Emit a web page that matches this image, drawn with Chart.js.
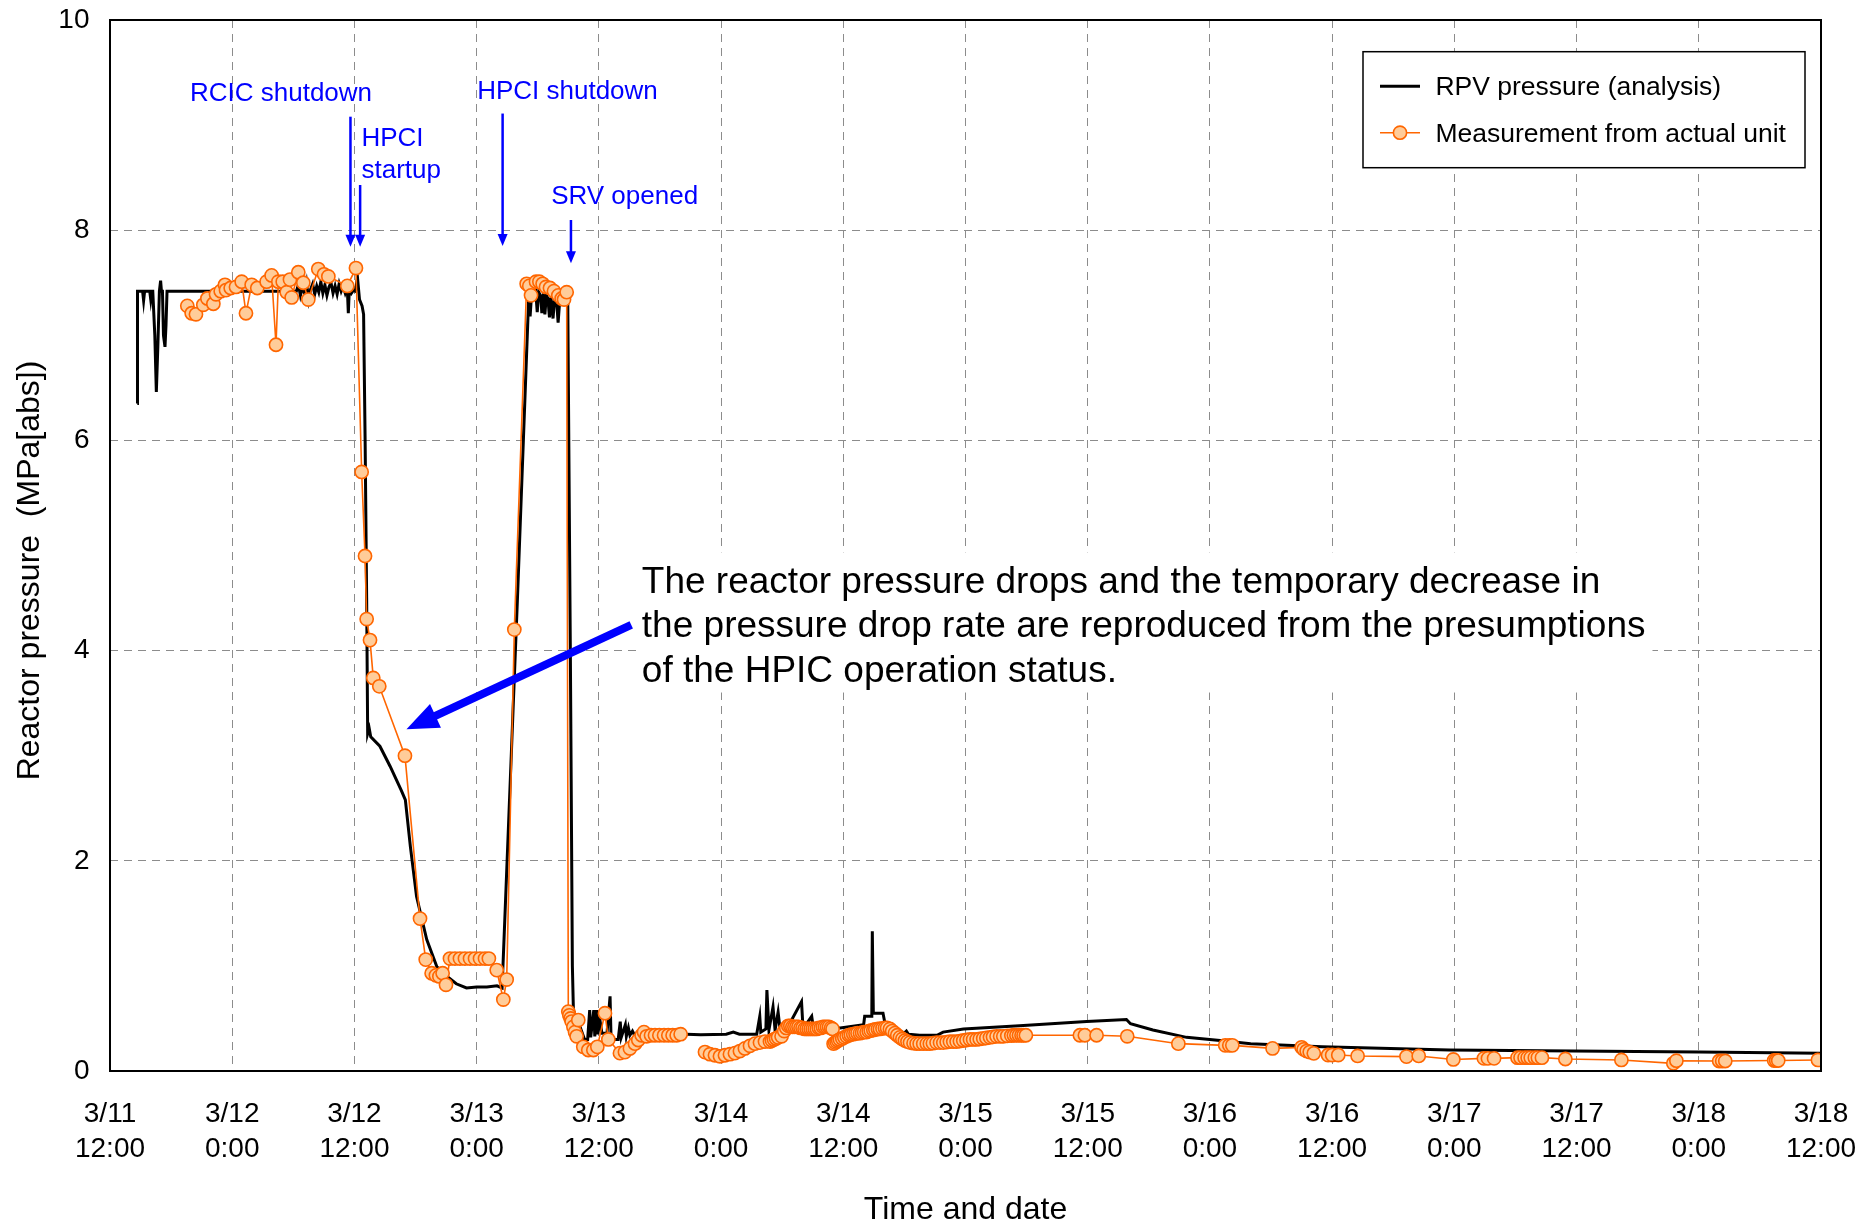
<!DOCTYPE html>
<html>
<head>
<meta charset="utf-8">
<title>Reactor pressure</title>
<script src="https://cdn.jsdelivr.net/npm/chart.js@4.4.1/dist/chart.umd.min.js"></script>
<style>
  html, body { margin: 0; padding: 0; background: #ffffff; }
  canvas { display: block; }
</style>
</head>
<body>
<canvas id="chart" width="1870" height="1223"></canvas>
<script>
// Time axis: hours elapsed since 3/11 12:00, one tick every 12 hours
const tickLabels = [
  ['3/11', '12:00'], ['3/12', '0:00'], ['3/12', '12:00'], ['3/13', '0:00'], ['3/13', '12:00'],
  ['3/14', '0:00'], ['3/14', '12:00'], ['3/15', '0:00'], ['3/15', '12:00'], ['3/16', '0:00'],
  ['3/16', '12:00'], ['3/17', '0:00'], ['3/17', '12:00'], ['3/18', '0:00'], ['3/18', '12:00']
];

// RPV pressure from the analysis (hours, MPa[abs])
const analysisHours = [
  2.68, 2.70, 3.20, 3.30, 3.40, 3.90, 4.00, 4.10, 4.20, 4.40, 4.55, 4.70, 4.85, 4.97, 5.05,
  5.15, 5.25, 5.40, 5.50, 5.60, 10.0, 15.0, 18.3,
  18.5, 18.7, 18.9, 19.1, 19.3, 19.5, 19.7, 19.9, 20.1, 20.3, 20.5, 20.7, 20.9, 21.1, 21.3,
  21.5, 21.7, 21.9, 22.1, 22.3, 22.5, 22.7, 22.9, 23.1, 23.3, 23.4, 23.5, 23.7, 23.9, 24.1,
  24.3, 24.5, 24.75, 24.9, 25.05, 25.2, 25.3, 25.45, 25.6, 26.5, 27.5, 28.6, 29.0, 29.5,
  30.1, 31.1, 32.1, 33.1, 34.0, 35.0, 36.0, 37.0, 38.0, 38.5, 40.0,
  41.1, 41.25, 41.4, 41.6, 41.8, 41.95, 42.1, 42.3, 42.4, 42.55, 42.7, 42.85, 43.0, 43.15,
  43.3, 43.5, 43.65, 43.85, 44.0, 44.15, 44.4, 44.6, 44.95,
  45.2, 45.4, 45.5, 46.15, 46.6, 46.9, 47.1, 47.2, 47.5, 47.6, 47.8, 47.9, 48.1, 48.3, 48.8,
  49.1, 49.2, 49.9, 50.1, 50.2, 50.6, 50.7, 50.9, 51.05, 51.3, 51.5, 51.7, 52.0, 54.0, 56.6,
  58.0, 60.5, 61.2, 61.8, 63.5, 63.8, 63.9, 64.4, 64.5, 64.7, 65.1, 65.3, 65.6, 65.8, 66.4,
  67.9, 68.05, 68.9, 69.05, 69.7, 71.7, 74.0, 74.1, 74.8, 74.85, 74.95, 75.9, 76.1, 78.0,
  78.2, 78.4, 79.5, 81.2, 81.8, 83.8, 89.3, 95.9, 99.8, 100.2, 102.4, 105.7, 109.0, 112.0,
  119.0, 131.5, 143.7, 156.0, 168.0
];
const analysisMPa = [
  6.35, 7.42, 7.42, 7.33, 7.42, 7.42, 7.34, 7.42, 7.42, 7.00, 6.46, 6.90, 7.42, 7.52, 7.42,
  7.42, 7.00, 6.89, 7.10, 7.42, 7.42, 7.42, 7.42,
  7.48, 7.38, 7.46, 7.40, 7.50, 7.34, 7.44, 7.49, 7.39, 7.47, 7.41, 7.51, 7.40, 7.48, 7.38,
  7.46, 7.50, 7.40, 7.47, 7.39, 7.49, 7.42, 7.47, 7.40, 7.45, 7.21, 7.44, 7.40, 7.43, 7.42,
  7.55, 7.34, 7.28, 7.20, 6.00, 4.50, 3.21, 3.26, 3.18, 3.09, 2.90, 2.67, 2.58, 2.13,
  1.66, 1.25, 0.99, 0.90, 0.83, 0.79, 0.80, 0.80, 0.81, 0.79, 4.48,
  7.33, 7.18, 7.40, 7.36, 7.42, 7.22, 7.41, 7.37, 7.21, 7.40, 7.20, 7.38, 7.35, 7.17,
  7.36, 7.16, 7.34, 7.33, 7.12, 7.32, 7.31, 7.30, 7.30,
  4.00, 1.00, 0.58, 0.42, 0.30, 0.30, 0.58, 0.32, 0.58, 0.33, 0.58, 0.35, 0.49, 0.36, 0.36,
  0.71, 0.30, 0.30, 0.47, 0.32, 0.44, 0.33, 0.41, 0.34, 0.38, 0.34, 0.36, 0.36, 0.36, 0.35,
  0.345, 0.35, 0.37, 0.35, 0.35, 0.52, 0.37, 0.40, 0.77, 0.39, 0.61, 0.39, 0.56, 0.39, 0.39,
  0.66, 0.40, 0.52, 0.42, 0.42, 0.41, 0.44, 0.52, 0.52, 1.33, 0.55, 0.55, 0.45, 0.36,
  0.38, 0.35, 0.34, 0.34, 0.37, 0.40, 0.43, 0.47, 0.49, 0.45, 0.39, 0.32, 0.29, 0.26,
  0.23, 0.20, 0.19, 0.18, 0.17
];

// Pressure measured on the actual unit (hours, MPa[abs]); null marks a gap in the record
const measuredHours = [
  7.59, 8.02, 8.44, 9.16, 9.56, 10.15, 10.41, 10.87, 11.29, 11.39, 11.85, 12.37, 12.93, 13.35,
  13.91, 14.46, 15.38, 15.87, 16.30, 16.53, 16.96, 17.35, 17.67, 17.84, 18.49, 18.98, 19.47,
  20.45, 21.01, 21.44, 23.30, 24.15,
  24.71, 25.04, 25.20, 25.53, 25.85, 26.44, 28.96, 30.44, 31.00, 31.58, 32.00, 32.34, 32.66,
  32.99, 33.38, 33.87, 34.36, 34.85, 35.35, 35.84, 36.33, 36.82, 37.20, 37.97, 38.62, 38.95,
  39.70, 40.91, 41.17, 41.34, 41.83, 42.16, 42.48, 42.81, 43.20, 43.59, 44.02, 44.35, 44.58,
  44.84,
  45.00, 45.10, 45.23, 45.33, 45.50, 45.66, 45.82, 45.98, 46.47, 46.96, 47.46, 47.85, 48.60,
  48.93, 50.07, 50.56, 51.05, 51.55, 51.87, 52.20, 52.43, 52.69, 53.12, 53.51, 53.94, 54.40,
  54.82, 55.24, 55.64, 56.03, 57.00,
  58.42, 58.91, 59.40, 59.89, 60.38, 60.87, 61.36, 61.85, 62.34, 62.84, 63.33, 63.82, 64.31,
  64.80, 65.00, 65.20, 65.40, 65.60, 65.94, 66.20, 66.40, 66.60, 66.80, 67.00, 67.20, 67.40,
  67.60, 67.80, 68.00, 68.20, 68.40, 68.60, 68.80, 69.00, 69.20, 69.40, 69.60, 69.80, 70.00,
  70.20, 70.40, 70.60, 70.80, 70.95,
  71.05, 71.20, 71.35, 71.50, 71.67, 71.90, 72.10, 72.33, 72.55, 72.75, 72.98, 73.20, 73.40,
  73.64, 73.85, 74.05, 74.29, 74.50, 74.70, 74.95, 75.15, 75.40, 75.60, 75.85, 76.09, 76.30,
  76.58, 76.80, 77.07, 77.30, 77.56, 77.80, 78.05, 78.30, 78.55, 78.90, 79.20, 79.50, 79.85,
  80.20, 80.50, 80.80, 81.16, 81.50, 81.82, 82.15, 82.47, 82.80, 83.13, 83.45, 83.78, 84.10,
  84.44, 84.75, 85.09, 85.40, 85.74, 86.05, 86.40, 86.70, 87.05, 87.40, 87.71, 88.10, 88.50,
  88.75, 89.00, 89.25, 89.50, 89.70, 89.93,
  95.23, 95.72, 96.87, 99.88, 104.90,
  109.50, 109.90, 110.20, 114.15, 117.00, 117.20, 117.50, 117.80, 118.20, 119.60, 120.00,
  120.60, 122.50, 127.30, 128.50, 131.90, 134.90, 135.30, 135.90, 138.20, 138.50, 138.90,
  139.20, 139.50, 139.90, 140.20, 140.60, 142.90, 148.40, 153.50, 153.80, 158.00, 158.30,
  158.60, 163.40, 163.60, 163.80, 167.70
];
const measuredMPa = [
  7.28, 7.21, 7.20, 7.29, 7.35, 7.30, 7.39, 7.42, 7.48, 7.43, 7.45, 7.46, 7.51, 7.21,
  7.48, 7.45, 7.51, 7.57, 6.91, 7.51, 7.51, 7.41, 7.53, 7.36, 7.60, 7.50, 7.34,
  7.63, 7.58, 7.56, 7.47, 7.64,
  5.70, 4.90, 4.30, 4.10, 3.74, 3.66, 3.00, 1.45, 1.06, 0.93, 0.91, 0.90, 0.93,
  0.82, 1.07, 1.07, 1.07, 1.07, 1.07, 1.07, 1.07, 1.07, 1.07, 0.96, 0.68, 0.87,
  4.20, 7.49, 7.47, 7.38, 7.51, 7.51, 7.49, 7.46, 7.45, 7.42, 7.38, 7.35, 7.34,
  7.41,
  0.565, 0.53, 0.50, 0.47, 0.42, 0.37, 0.33, 0.485, 0.23, 0.20, 0.20, 0.23, 0.55,
  0.30, 0.17, 0.18, 0.215, 0.26, 0.295, 0.34, 0.37, 0.33, 0.34, 0.34, 0.34, 0.34,
  0.34, 0.34, 0.34, 0.35, null,
  0.18, 0.16, 0.15, 0.14, 0.15, 0.16, 0.17, 0.19, 0.215, 0.24, 0.26, 0.27, 0.28,
  0.28, 0.29, 0.30, 0.31, 0.32, 0.33, 0.38, 0.41, 0.43, 0.43, 0.42, 0.42, 0.42,
  0.42, 0.41, 0.41, 0.40, 0.40, 0.40, 0.40, 0.40, 0.40, 0.40, 0.41, 0.41, 0.42,
  0.42, 0.42, 0.42, 0.41, 0.40,
  0.26, 0.27, 0.28, 0.29, 0.30, 0.31, 0.32, 0.33, 0.34, 0.345, 0.35, 0.355, 0.36,
  0.36, 0.365, 0.37, 0.37, 0.38, 0.385, 0.39, 0.395, 0.40, 0.40, 0.405, 0.41, 0.41,
  0.40, 0.38, 0.36, 0.34, 0.32, 0.305, 0.29, 0.28, 0.27, 0.265, 0.26, 0.26, 0.26,
  0.26, 0.26, 0.265, 0.27, 0.27, 0.27, 0.275, 0.28, 0.28, 0.28, 0.285, 0.29, 0.295,
  0.30, 0.30, 0.30, 0.305, 0.31, 0.315, 0.32, 0.325, 0.33, 0.33, 0.33, 0.335, 0.337,
  0.34, 0.34, 0.34, 0.34, 0.34, 0.34,
  0.34, 0.34, 0.34, 0.33, 0.26,
  0.244, 0.244, 0.244, 0.215, 0.225, 0.206, 0.19, 0.18, 0.168, 0.152, 0.152,
  0.152, 0.143, 0.137, 0.143, 0.11, 0.12, 0.12, 0.12, 0.127, 0.127, 0.127,
  0.127, 0.127, 0.127, 0.127, 0.127, 0.114, 0.105, 0.073, 0.098, 0.095, 0.095,
  0.095, 0.10, 0.10, 0.10, 0.105
];

const FONT = "'Liberation Sans', Arial, Helvetica, sans-serif";
const BLUE = '#0000ff';
const ORANGE = '#ff6600';
const ORANGE_FILL = '#ffcc99';
const GRID = '#8c8c8c';

// Event call-outs, anchored in data coordinates (hours, MPa)
const eventNotes = [
  { lines: ['RCIC shutdown'], h: 16.79, v: 9.232, align: 'center' },
  { lines: ['HPCI', 'startup'], h: 24.69, v: 8.80, align: 'left' },
  { lines: ['HPCI shutdown'], h: 44.92, v: 9.245, align: 'center' },
  { lines: ['SRV opened'], h: 50.53, v: 8.249, align: 'center' }
];
const eventArrows = [
  { h: 23.61, from: 9.08, to: 7.843 },
  { h: 24.56, from: 8.43, to: 7.843 },
  { h: 38.55, from: 9.11, to: 7.85 },
  { h: 45.26, from: 8.097, to: 7.685 }
];
const remarkLines = [
  'The reactor pressure drops and the temporary decrease in',
  'the pressure drop rate are reproduced from the presumptions',
  'of the HPIC operation status.'
];
const remarkAnchor = { h: 52.22, v: 4.545 };
const remarkArrow = { fromH: 51.18, fromV: 4.244, toH: 29.11, toV: 3.251 };

const analysisPoints = analysisHours.map((h, i) => ({ x: h, y: analysisMPa[i] }));
const measuredPoints = measuredHours.map((h, i) => ({ x: h, y: measuredMPa[i] }));

function drawVArrow(ctx, x, y0, y1) {
  const head = 12, half = 5;
  ctx.beginPath();
  ctx.moveTo(x, y0);
  ctx.lineTo(x, y1 - head + 1);
  ctx.stroke();
  ctx.beginPath();
  ctx.moveTo(x, y1);
  ctx.lineTo(x - half, y1 - head);
  ctx.lineTo(x + half, y1 - head);
  ctx.closePath();
  ctx.fill();
}

const decorations = {
  id: 'decorations',
  beforeDatasetsDraw(chart) {
    // white panel behind the remark text
    const { ctx, scales: { x, y } } = chart;
    ctx.save();
    ctx.font = '37px ' + FONT;
    const left = x.getPixelForValue(remarkAnchor.h);
    const base = y.getPixelForValue(remarkAnchor.v);
    const w = Math.max(...remarkLines.map(t => ctx.measureText(t).width));
    ctx.fillStyle = '#ffffff';
    ctx.fillRect(left - 3, base - 41, w + 10, 44.1 * 2 + 52);
    ctx.restore();
  },
  afterDraw(chart) {
    const { ctx, chartArea: a, scales: { x, y } } = chart;
    ctx.save();

    // plot frame
    ctx.strokeStyle = '#000';
    ctx.lineWidth = 2;
    ctx.strokeRect(a.left, a.top, a.right - a.left, a.bottom - a.top);

    // y axis title
    ctx.save();
    ctx.translate(a.left - 80, (a.top + a.bottom) / 2 + 25);
    ctx.rotate(-Math.PI / 2);
    ctx.font = '32px ' + FONT;
    ctx.fillStyle = '#000';
    ctx.textAlign = 'center';
    ctx.textBaseline = 'middle';
    ctx.fillText('Reactor pressure  (MPa[abs])', 0, 0);
    ctx.restore();

    // event call-outs
    ctx.fillStyle = BLUE;
    ctx.strokeStyle = BLUE;
    ctx.lineWidth = 2.5;
    ctx.font = '26px ' + FONT;
    ctx.textBaseline = 'alphabetic';
    eventNotes.forEach(n => {
      ctx.textAlign = n.align;
      const px = x.getPixelForValue(n.h);
      const py = y.getPixelForValue(n.v);
      n.lines.forEach((t, i) => ctx.fillText(t, px, py + i * 31.5));
    });
    eventArrows.forEach(ar => {
      drawVArrow(ctx, x.getPixelForValue(ar.h), y.getPixelForValue(ar.from), y.getPixelForValue(ar.to));
    });

    // remark text
    ctx.fillStyle = '#000';
    ctx.font = '37px ' + FONT;
    ctx.textAlign = 'left';
    const rl = x.getPixelForValue(remarkAnchor.h);
    const rb = y.getPixelForValue(remarkAnchor.v);
    remarkLines.forEach((t, i) => ctx.fillText(t, rl, rb + i * 44.1));

    // thick remark arrow
    const x0 = x.getPixelForValue(remarkArrow.fromH), y0 = y.getPixelForValue(remarkArrow.fromV);
    const x1 = x.getPixelForValue(remarkArrow.toH), y1 = y.getPixelForValue(remarkArrow.toV);
    const ang = Math.atan2(y1 - y0, x1 - x0);
    const headLen = 32, headHalf = 13;
    const bx = x1 - headLen * Math.cos(ang), by = y1 - headLen * Math.sin(ang);
    ctx.strokeStyle = BLUE;
    ctx.fillStyle = BLUE;
    ctx.lineWidth = 8;
    ctx.lineCap = 'butt';
    ctx.beginPath();
    ctx.moveTo(x0, y0);
    ctx.lineTo(bx + 2 * Math.cos(ang), by + 2 * Math.sin(ang));
    ctx.stroke();
    ctx.beginPath();
    ctx.moveTo(x1, y1);
    ctx.lineTo(bx + headHalf * Math.sin(ang), by - headHalf * Math.cos(ang));
    ctx.lineTo(bx - headHalf * Math.sin(ang), by + headHalf * Math.cos(ang));
    ctx.closePath();
    ctx.fill();

    // legend
    const lx = a.right - 458, ly = a.top + 31.7, lw = 442, lh = 116;
    ctx.fillStyle = '#fff';
    ctx.fillRect(lx, ly, lw, lh);
    ctx.strokeStyle = '#000';
    ctx.lineWidth = 1.5;
    ctx.strokeRect(lx, ly, lw, lh);
    const rows = chart.data.datasets.slice().sort((p, q) => p.legendRow - q.legendRow);
    rows.forEach((ds, i) => {
      const ry = ly + 34.5 + i * 46.5;
      ctx.strokeStyle = ds.borderColor;
      ctx.lineWidth = ds.borderWidth;
      ctx.beginPath();
      ctx.moveTo(lx + 17, ry);
      ctx.lineTo(lx + 57, ry);
      ctx.stroke();
      if (ds.pointRadius > 0) {
        ctx.beginPath();
        ctx.arc(lx + 37, ry, ds.pointRadius, 0, Math.PI * 2);
        ctx.fillStyle = ds.pointBackgroundColor;
        ctx.fill();
        ctx.lineWidth = ds.pointBorderWidth;
        ctx.strokeStyle = ds.pointBorderColor;
        ctx.stroke();
      }
      ctx.fillStyle = '#000';
      ctx.font = '26.5px ' + FONT;
      ctx.textAlign = 'left';
      ctx.textBaseline = 'middle';
      ctx.fillText(ds.label, lx + 72.4, ry + 1.5);
    });

    ctx.restore();
  }
};

new Chart(document.getElementById('chart'), {
  type: 'line',
  data: {
    datasets: [
      {
        label: 'RPV pressure (analysis)',
        legendRow: 0,
        data: analysisPoints,
        borderColor: '#000000',
        borderWidth: 3,
        pointRadius: 0,
        tension: 0,
        order: 1
      },
      {
        label: 'Measurement from actual unit',
        legendRow: 1,
        data: measuredPoints,
        borderColor: ORANGE,
        borderWidth: 1.6,
        pointRadius: 6.6,
        pointBackgroundColor: ORANGE_FILL,
        pointBorderColor: ORANGE,
        pointBorderWidth: 1.6,
        tension: 0,
        spanGaps: false,
        order: 0
      }
    ]
  },
  options: {
    responsive: false,
    animation: false,
    devicePixelRatio: 1,
    layout: { padding: { top: 20, right: 49, left: 0, bottom: 0 } },
    plugins: {
      legend: { display: false },
      tooltip: { enabled: false }
    },
    scales: {
      x: {
        type: 'linear',
        position: 'bottom',
        min: 0,
        max: 168,
        afterFit(scale) { scale.height = 152; },
        ticks: {
          stepSize: 12,
          autoSkip: false,
          maxRotation: 0,
          padding: 0,
          color: '#000',
          font: { family: FONT, size: 28, lineHeight: 1.28 },
          callback: (value) => tickLabels[Math.round(value / 12)]
        },
        grid: {
          color: GRID, lineWidth: 1,
          drawTicks: true, tickLength: 25, tickColor: 'rgba(0,0,0,0)'
        },
        border: { display: false, dash: [8, 6] },
        title: {
          display: true,
          text: 'Time and date',
          color: '#000',
          font: { family: FONT, size: 32, lineHeight: 1.0 },
          padding: { top: 0, bottom: -3 }
        }
      },
      y: {
        min: 0,
        max: 10,
        afterFit(scale) { scale.width = 110; },
        ticks: {
          stepSize: 2,
          padding: 0,
          color: '#000',
          font: { family: FONT, size: 28 }
        },
        grid: {
          color: GRID, lineWidth: 1,
          drawTicks: true, tickLength: 20.5, tickColor: 'rgba(0,0,0,0)'
        },
        border: { display: false, dash: [8, 6] }
      }
    }
  },
  plugins: [decorations]
});
</script>
</body>
</html>
